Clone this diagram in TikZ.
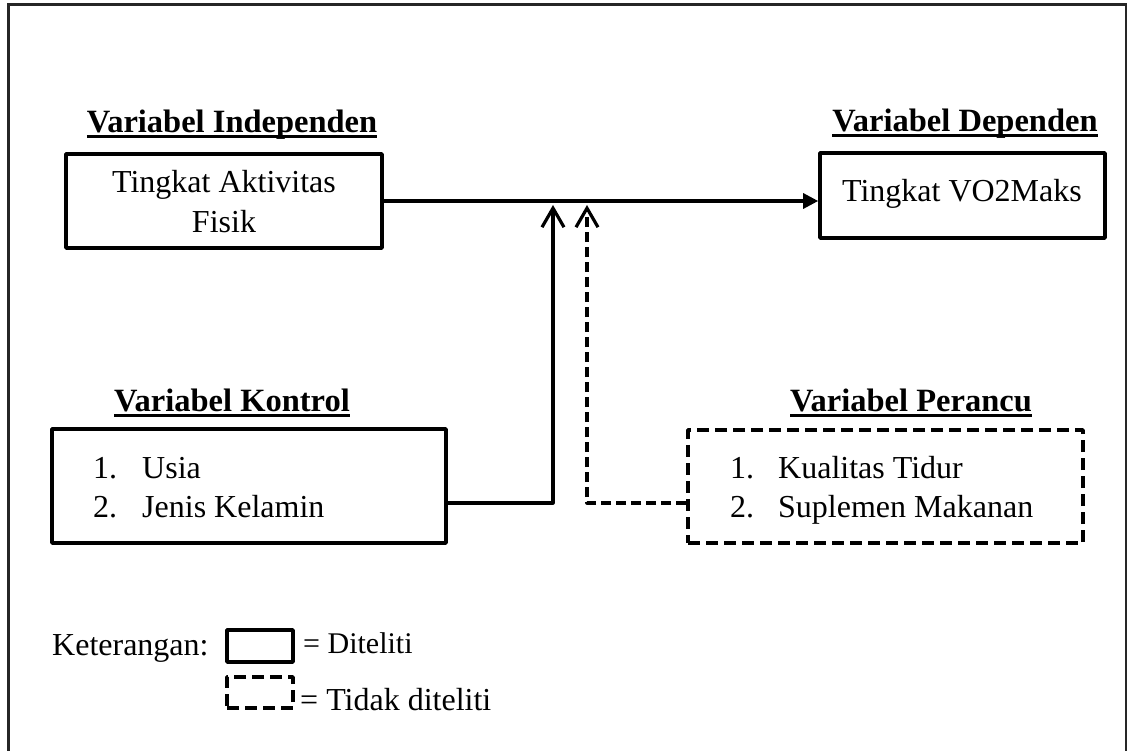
\documentclass[tikz,border=0pt]{standalone}
\usepackage{fontspec}
\setmainfont{Liberation Serif}
\usetikzlibrary{arrows.meta}
\newcommand{\thickul}[1]{\setbox0\hbox{#1}\rlap{\rule[-5pt]{\wd0}{2.8pt}}\box0}
\begin{document}
\begin{tikzpicture}[x=1pt,y=-1pt,
  txt/.style={inner sep=0pt,anchor=base,font=\fontsize{32}{40}\selectfont},
  txtw/.style={inner sep=0pt,anchor=base west,font=\fontsize{32}{40}\selectfont},
  ttl/.style={inner sep=0pt,anchor=base,font=\fontsize{32.5}{40}\selectfont\bfseries},
  solidbox/.style={draw,line width=3.6pt,rectangle,inner sep=0pt,line join=round},
  dashbox/.style={draw,line width=3.6pt,rectangle,inner sep=0pt,line join=round,dash pattern=on 12pt off 6pt},
  conn/.style={line width=3.2pt,line join=round},
  dconn/.style={line width=3.2pt,line join=round,dash pattern=on 10pt off 5pt},
  barb/.style={-{Straight Barb[length=19pt,width=22pt,line width=3.2pt]}}
]
\useasboundingbox (0,0) rectangle (1128,751);
\clip (0,0) rectangle (1128,751);
\fill[white] (0,0) rectangle (1128,751);
\draw[line width=2.4pt,black!85] (8.5,4.5) rectangle (1126,790);

% titles
\node[ttl] (tind) at (232,133) {\thickul{Variabel Independen}};
\node[ttl] (tdep) at (965,132) {\thickul{Variabel Dependen}};
\node[ttl] (tkon) at (232,412) {\thickul{Variabel Kontrol}};
\node[ttl] (tper) at (911,412) {\thickul{Variabel Perancu}};

% boxes
\node[solidbox,minimum width=316pt,minimum height=94pt] (ind) at (224,201) {};
\node[solidbox,minimum width=285pt,minimum height=85pt] (dep) at (962.5,195.5) {};
\node[solidbox,minimum width=394pt,minimum height=114pt] (kon) at (249,486) {};
\node[dashbox,minimum width=395pt,minimum height=113pt] (per) at (885.5,486.5) {};

% box texts
\node[txt] (ind1) at (224,193) {Tingkat Aktivitas};
\node[txt] (ind2) at (224,233) {Fisik};
\node[txt] (dep1) at (962,202) {Tingkat VO2Maks};
\node[txtw] (k1n) at (93,478) {1.};
\node[txtw] (k1t) at (142,478) {Usia};
\node[txtw] (k2n) at (93,517) {2.};
\node[txtw] (k2t) at (142,517) {Jenis Kelamin};
\node[txtw] (p1n) at (730,478) {1.};
\node[txtw] (p1t) at (778,478) {Kualitas Tidur};
\node[txtw] (p2n) at (730,517) {2.};
\node[txtw] (p2t) at (778,517) {Suplemen Makanan};

% connectors
\coordinate (ka) at (553,503);
\coordinate (kt) at (553,205);
\coordinate (pa) at (587,503);
\coordinate (pt) at (587,205);
\draw[conn,-{Triangle[length=15pt,width=15pt]}] (ind.east) -- (ind.east -| dep.west);
\draw[conn,barb] (kon.east |- ka) -- (ka) -- (kt);
\draw[dconn,barb] (per.west |- pa) -- (pa) -- (pt);

% legend
\node[txtw] (ket) at (52,655) {Keterangan:};
\node[solidbox,minimum width=66pt,minimum height=32pt] (lsolid) at (260,646) {};
\node[dashbox,minimum width=66pt,minimum height=31pt] (ldash) at (260,692.5) {};
\node[inner sep=0pt,anchor=base west,font=\fontsize{30}{36}\selectfont] (lsolidt) at (303,653) {= Diteliti};
\node[txtw] (ldasht) at (300,710) {= Tidak diteliti};
\end{tikzpicture}
\end{document}
